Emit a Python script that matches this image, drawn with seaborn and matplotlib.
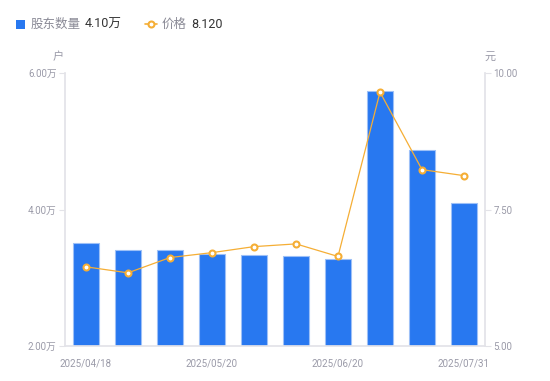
import matplotlib
matplotlib.use("Agg")
import matplotlib.pyplot as plt
import seaborn as sns
import pandas as pd
from matplotlib.lines import Line2D
from matplotlib.patches import Rectangle

dates = ["2025/04/18", "2025/04/30", "2025/05/09", "2025/05/20", "2025/05/30",
         "2025/06/10", "2025/06/20", "2025/06/30", "2025/07/10", "2025/07/31"]
holders = [3.51, 3.41, 3.40, 3.35, 3.33, 3.32, 3.27, 5.74, 4.87, 4.10]  # 万户
price = [6.45, 6.34, 6.62, 6.71, 6.82, 6.87, 6.64, 9.65, 8.23, 8.12]
shown_ticks = ["2025/04/18", "2025/05/20", "2025/06/20", "2025/07/31"]
left_ticks = [2.0, 4.0, 6.0]
right_ticks = [5.0, 7.5, 10.0]

sns.set_theme(style="white")
plt.rcParams["font.family"] = ["Roboto", "Noto Sans CJK SC", "DejaVu Sans"]
CJK = ["Noto Sans CJK SC", "DejaVu Sans"]

BLUE = "#2878F0"
ORANGE = "#F5AE35"
GRAY = "#9A9AA8"
AXC = "#E3E3E8"

df = pd.DataFrame({"date": dates, "holders": holders, "price": price})

fig = plt.figure(figsize=(5.5, 3.81), dpi=100)
ax = fig.add_axes([65/550, 1-346/381, 420/550, (346-73)/381])

sns.barplot(data=df, x="date", y="holders", color=BLUE, saturation=1,
            width=0.6, edgecolor="#9DC0F7", linewidth=0.8, ax=ax)
ax.set_ylim(2, 6)
ax.set_xlim(-0.5, len(dates) - 0.5)

ax2 = ax.twinx()
sns.lineplot(data=df, x="date", y="price", color=ORANGE, linewidth=0.9,
             marker="o", markersize=4.3, markerfacecolor="white",
             markeredgecolor=ORANGE, markeredgewidth=1.5, ax=ax2)
ax2.set_ylim(5, 10)

for a in (ax, ax2):
    a.set_xlabel("")
    a.set_ylabel("")
    for s in a.spines.values():
        s.set_visible(False)

ax.spines["left"].set_visible(True)
ax.spines["left"].set_color(AXC)
ax.spines["bottom"].set_visible(True)
ax.spines["bottom"].set_color(AXC)
ax2.spines["right"].set_visible(True)
ax2.spines["right"].set_color(AXC)

ax.set_yticks(left_ticks)
ax.set_yticklabels([f"{v:.2f}万" for v in left_ticks])
ax2.set_yticks(right_ticks)
ax2.set_yticklabels([f"{v:.2f}" for v in right_ticks])
ax.tick_params(axis="y", left=True, length=4, width=0.8, color=AXC,
               labelsize=7, labelcolor=GRAY, pad=2)
ax2.tick_params(axis="y", right=True, length=4, width=0.8, color=AXC,
                labelsize=7, labelcolor=GRAY, pad=2)

pos = [dates.index(d) for d in shown_ticks]
ax.set_xticks(pos)
ax.set_xticklabels(shown_ticks)
ax.tick_params(axis="x", bottom=False, labelsize=7, labelcolor=GRAY, pad=3)
ax.grid(False)
ax2.grid(False)

fig.text(58/550, 1-57/381, "户", fontsize=8, color=GRAY, ha="center", va="center", family=CJK)
fig.text(490/550, 1-57/381, "元", fontsize=8, color=GRAY, ha="center", va="center", family=CJK)

# legend
fig.patches.append(Rectangle((16/550, 1-29/381), 9/550, 9/381, transform=fig.transFigure,
                             facecolor=BLUE, edgecolor="none"))
fig.text(31/550, 1-24/381, "股东数量", fontsize=9, color="#8A8A96", va="center", family=CJK)
fig.text(85/550, 1-24/381, f"{holders[-1]:.2f}万", fontsize=9, color="#333333", va="center")
fig.lines.append(Line2D([145/550, 157/550], [1-24/381, 1-24/381], transform=fig.transFigure,
                        color=ORANGE, linewidth=1.2))
fig.lines.append(Line2D([151/550], [1-24/381], transform=fig.transFigure,
                        color=ORANGE, marker="o", markersize=4.3, linestyle="none",
                        markerfacecolor="white", markeredgecolor=ORANGE, markeredgewidth=1.5))
fig.text(162/550, 1-24/381, "价格", fontsize=9, color="#8A8A96", va="center", family=CJK)
fig.text(191/550, 1-24/381, f"{price[-1]:.3f}", fontsize=9, color="#333333", va="center")

fig.savefig("out.png", dpi=100)
